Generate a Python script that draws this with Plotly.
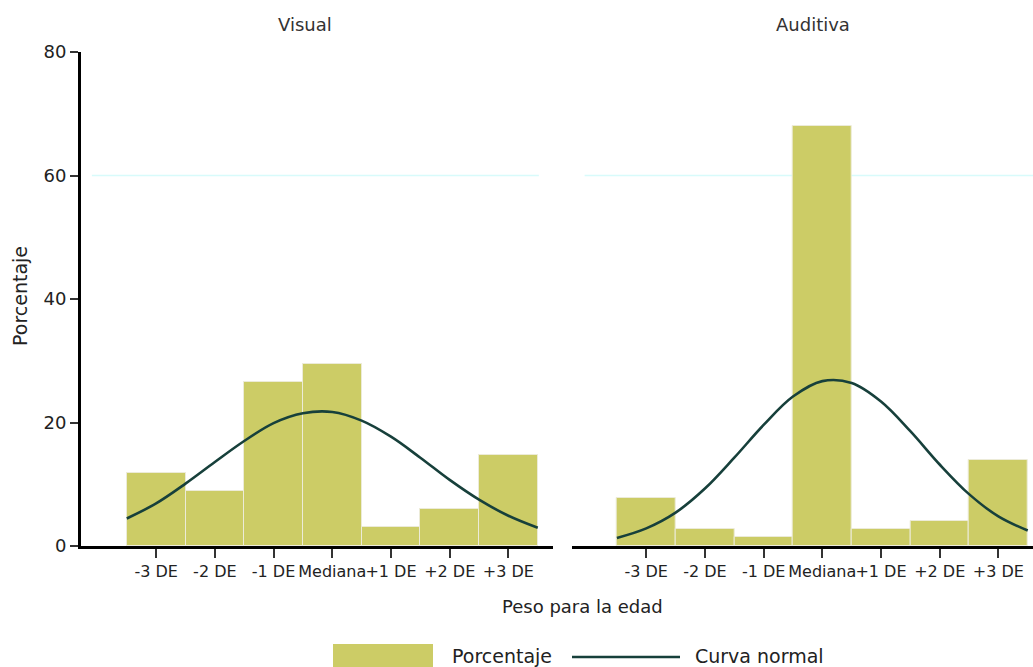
import plotly.graph_objects as go
from plotly.subplots import make_subplots

# ---- data ----
categories = ["-3 DE", "-2 DE", "-1 DE", "Mediana", "+1 DE", "+2 DE", "+3 DE"]
visual_pct = [11.8, 8.9, 26.5, 29.4, 3.0, 6.0, 14.7]
auditiva_pct = [7.8, 2.7, 1.4, 68.0, 2.7, 4.0, 13.9]

curve_x = [-0.5, 0, 0.5, 1, 1.5, 2, 2.5, 3, 3.5, 4, 4.5, 5, 5.5, 6, 6.5]
visual_curve = [4.45, 6.9, 10.1, 13.6, 17.0, 19.9, 21.5, 21.7, 20.3, 17.7, 14.3, 10.7, 7.5, 4.9, 2.95]
auditiva_curve = [1.3, 2.85, 5.4, 9.3, 14.3, 19.6, 24.2, 26.7, 26.4, 23.4, 18.6, 13.2, 8.4, 4.8, 2.5]

panel_titles = ["Visual", "Auditiva"]
y_ticks = [0, 20, 40, 60, 80]

# ---- layout geometry (pixels) ----
W, H = 1033, 667
L, T, B = 81, 52, 546          # plot area left, top, bottom (px)
PW = W - L
PH = B - T

def px(xp):
    return (xp - L) / PW

def py(yp):
    return (B - yp) / PH

BAR_COLOR = "#cccc66"
CURVE_COLOR = "#17403b"
FONT = "DejaVu Sans"
TXT = "#222222"

fig = make_subplots(rows=1, cols=2, shared_yaxes=False)
pos = list(range(len(categories)))

for i, (vals, curve) in enumerate([(visual_pct, visual_curve), (auditiva_pct, auditiva_curve)]):
    fig.add_trace(go.Bar(x=pos, y=vals, width=1.0, marker=dict(color=BAR_COLOR,
                         line=dict(color="#ecebd8", width=1)), showlegend=False,
                         name="Porcentaje"), row=1, col=i + 1)
    fig.add_trace(go.Scatter(x=curve_x, y=curve, mode="lines",
                             line=dict(color=CURVE_COLOR, width=2.6, shape="spline"),
                             showlegend=False, name="Curva normal"), row=1, col=i + 1)

axis_common = dict(tickmode="array", tickvals=pos, ticktext=categories, tickangle=0,
                   showline=True, linecolor="black", linewidth=3, ticks="outside",
                   ticklen=9, tickwidth=2, tickcolor="#333", showgrid=False, zeroline=False,
                   tickfont=dict(family=FONT, size=16, color=TXT))
fig.update_xaxes(axis_common)
fig.update_layout(
    xaxis=dict(domain=[0, px(553)], range=[-1.28, 6.76]),
    xaxis2=dict(domain=[px(571.7), 1.0], range=[-1.27, 6.59]),
    yaxis=dict(range=[0, 80], tickvals=y_ticks, showline=True, linecolor="black", linewidth=3,
               ticks="outside", ticklen=8, tickwidth=2, tickcolor="#333", showgrid=False,
               zeroline=False, tickfont=dict(family=FONT, size=18, color=TXT)),
    yaxis2=dict(range=[0, 80], showticklabels=False, showline=False, showgrid=False,
                zeroline=False, ticks=""),
    bargap=0,
    width=W, height=H,
    margin=dict(l=L, r=0, t=T, b=H - B, pad=0),
    plot_bgcolor="white", paper_bgcolor="white",
)

# gridline at 60
fig.add_shape(type="line", xref="x domain", yref="y", x0=0.023, x1=0.97, y0=60, y1=60,
              line=dict(color="#d8fbfb", width=1.5), layer="below")
fig.add_shape(type="line", xref="x2 domain", yref="y2", x0=0.028, x1=1.0, y0=60, y1=60,
              line=dict(color="#d8fbfb", width=1.5), layer="below")

def label(text, x, y, xanchor="center", size=18, color=TXT, angle=0):
    return dict(text=text, x=px(x), y=py(y), xref="paper", yref="paper",
                xanchor=xanchor, yanchor="middle", textangle=angle, showarrow=False,
                font=dict(family=FONT, size=size, color=color))

ann = [
    label(panel_titles[0], 305, 25, color="#333"),
    label(panel_titles[1], 813, 25, color="#333"),
    label("Porcentaje", 20, 296, angle=-90, size=19),
    label("Peso para la edad", 582, 606),
    label("Porcentaje", 450, 656, xanchor="left", size=19),
    label("Curva normal", 693, 656, xanchor="left", size=19),
]
# custom legend swatches
fig.add_shape(type="rect", xref="paper", yref="paper", x0=px(333), x1=px(433), y0=py(644), y1=py(670),
              fillcolor=BAR_COLOR, line=dict(width=0))
fig.add_shape(type="line", xref="paper", yref="paper", x0=px(572), x1=px(680), y0=py(657), y1=py(657),
              line=dict(color=CURVE_COLOR, width=2.6))
fig.update_layout(annotations=ann)

fig.write_html("out.html")
